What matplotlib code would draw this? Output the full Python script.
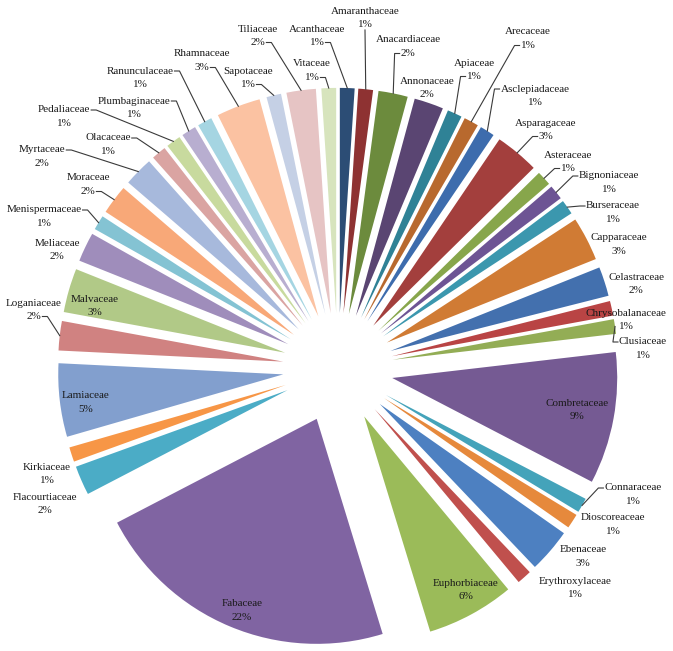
import matplotlib
matplotlib.use('Agg')
import matplotlib.pyplot as plt
import numpy as np

# plant families, alphabetical, clockwise from 12 o'clock
families = ['Acanthaceae', 'Amaranthaceae', 'Anacardiaceae', 'Annonaceae', 'Apiaceae',
            'Arecaceae', 'Asclepiadaceae', 'Asparagaceae', 'Asteraceae', 'Bignoniaceae',
            'Burseraceae', 'Capparaceae', 'Celastraceae', 'Chrysobalanaceae', 'Clusiaceae',
            'Combretaceae', 'Connaraceae', 'Dioscoreaceae', 'Ebenaceae', 'Erythroxylaceae',
            'Euphorbiaceae', 'Fabaceae', 'Flacourtiaceae', 'Kirkiaceae', 'Lamiaceae',
            'Loganiaceae', 'Malvaceae', 'Meliaceae', 'Menispermaceae', 'Moraceae',
            'Myrtaceae', 'Olacaceae', 'Pedaliaceae', 'Plumbaginaceae', 'Ranunculaceae',
            'Rhamnaceae', 'Sapotaceae', 'Tiliaceae', 'Vitaceae']
# number of species per family (percent labels round to the values in the figure)
counts = [1, 1, 2, 2, 1,
          1, 1, 3, 1, 1,
          1, 3, 2, 1, 1,
          9, 1, 1, 3, 1,
          6, 21, 2, 1, 5,
          2, 3, 2, 1, 2,
          2, 1, 1, 1, 1,
          3, 1, 2, 1]
colors = ['#2c4d75', '#8e3232', '#6c8b3d', '#5a4572', '#2f8296',
          '#b8692e', '#3d6cad', '#a33f3d', '#87a64b', '#6d5494',
          '#3b97ae', '#d07b34', '#4370ae', '#b94444', '#93ad55',
          '#755a93', '#44a3ba', '#e6893c', '#4d80c1', '#c0504d',
          '#9bbb59', '#8064a2', '#4bacc6', '#f79646', '#829fce',
          '#d08281', '#b1c987', '#9f8dbb', '#84c3d3', '#f8a878',
          '#a7b9dc', '#daa4a2', '#c8da9e', '#b8aed0', '#a5d5e2',
          '#fbc2a2', '#c5d0e5', '#e6c4c4', '#d7e4bd']

# label layout in image pixels: centre x, y of name line, where the leader starts
label_layout = {
    'Acanthaceae': (317, 29, 'r2'), 'Amaranthaceae': (365, 11, 'b'),
    'Anacardiaceae': (408, 40, 'l2'), 'Annonaceae': (427, 81, None),
    'Apiaceae': (474, 63, 'l2'), 'Arecaceae': (528, 32, 'l2'),
    'Asclepiadaceae': (535, 89, 'l1'), 'Asparagaceae': (546, 123, 'l2'),
    'Asteraceae': (568, 155, 'l2'), 'Bignoniaceae': (609, 176, 'l1'),
    'Burseraceae': (613, 206, 'l1'), 'Capparaceae': (619, 238, None),
    'Celastraceae': (636, 277, None), 'Chrysobalanaceae': (626, 313, None),
    'Clusiaceae': (643, 342, 'l1'), 'Combretaceae': (577, 403, None),
    'Connaraceae': (633, 488, 'l1'), 'Dioscoreaceae': (613, 518, None),
    'Ebenaceae': (583, 550, None), 'Erythroxylaceae': (575, 581, None),
    'Euphorbiaceae': (466, 583, None), 'Fabaceae': (242, 604, None),
    'Flacourtiaceae': (45, 497, None), 'Kirkiaceae': (47, 467, None),
    'Lamiaceae': (86, 396, None), 'Loganiaceae': (34, 303, 'r2'),
    'Malvaceae': (95, 299, None), 'Meliaceae': (57, 243, None),
    'Menispermaceae': (44, 210, 'r1'), 'Moraceae': (88, 178, 'r2'),
    'Myrtaceae': (42, 150, 'r1'), 'Olacaceae': (108, 138, 'r1'),
    'Pedaliaceae': (64, 110, 'r1'), 'Plumbaginaceae': (134, 101, 'r1'),
    'Ranunculaceae': (140, 71, 'r1'), 'Rhamnaceae': (202, 54, 'r2'),
    'Sapotaceae': (248, 71, 'r2'), 'Tiliaceae': (258, 29, 'r2'),
    'Vitaceae': (312, 64, 'r2'),
}

W, H = 673, 651
cx, cy, R = 338, 368, 225   # pie centre and radius in pixels
explode = 0.245
line_gap = 13.5

fig = plt.figure(figsize=(W / 100, H / 100), dpi=100)
ax = fig.add_axes([0, 0, 1, 1])

wedges, _ = ax.pie(counts, colors=colors, explode=[explode] * len(counts),
                   startangle=90, counterclock=False, radius=1,
                   wedgeprops=dict(linewidth=0))
ax.set_xlim(-cx / R, (W - cx) / R)
ax.set_ylim(-(H - cy) / R, cy / R)
ax.axis('off')


def to_data(x, y):
    return (x - cx) / R, (cy - y) / R


total = sum(counts)
font = dict(family=['Liberation Serif', 'DejaVu Serif'], size=8, color='#1a1a1a')
texts = {}
for name, c in zip(families, counts):
    x, y, _ = label_layout[name]
    t1 = ax.text(*to_data(x, y), name, ha='center', va='center', **font)
    t2 = ax.text(*to_data(x, y + line_gap), f'{round(100 * c / total)}%',
                 ha='center', va='center', **font)
    texts[name] = (t1, t2)

fig.canvas.draw()
renderer = fig.canvas.get_renderer()
for name, w in zip(families, wedges):
    x, y, anchor = label_layout[name]
    if anchor is None:
        continue
    t1, t2 = texts[name]
    t = t1 if anchor.endswith('1') else t2
    bb = t.get_window_extent(renderer)
    # display coords -> image pixels (y down)
    left, right = bb.x0, bb.x1
    ymid = H - (bb.y0 + bb.y1) / 2
    mid = np.deg2rad((w.theta1 + w.theta2) / 2)
    tx = cx + (1 + explode) * R * np.cos(mid)
    ty = cy - (1 + explode) * R * np.sin(mid)
    if anchor == 'b':
        pts = [(x, H - bb.y0 + 1), (tx, ty)]
    elif anchor[0] == 'r':
        pts = [(right + 1, ymid), (right + 6, ymid), (tx, ty)]
    else:
        pts = [(left - 1, ymid), (left - 6, ymid), (tx, ty)]
    xs, ys = zip(*[to_data(px, py) for px, py in pts])
    ax.plot(xs, ys, color='#3a3a3a', lw=0.8)

fig.savefig('out.png', dpi=100)
